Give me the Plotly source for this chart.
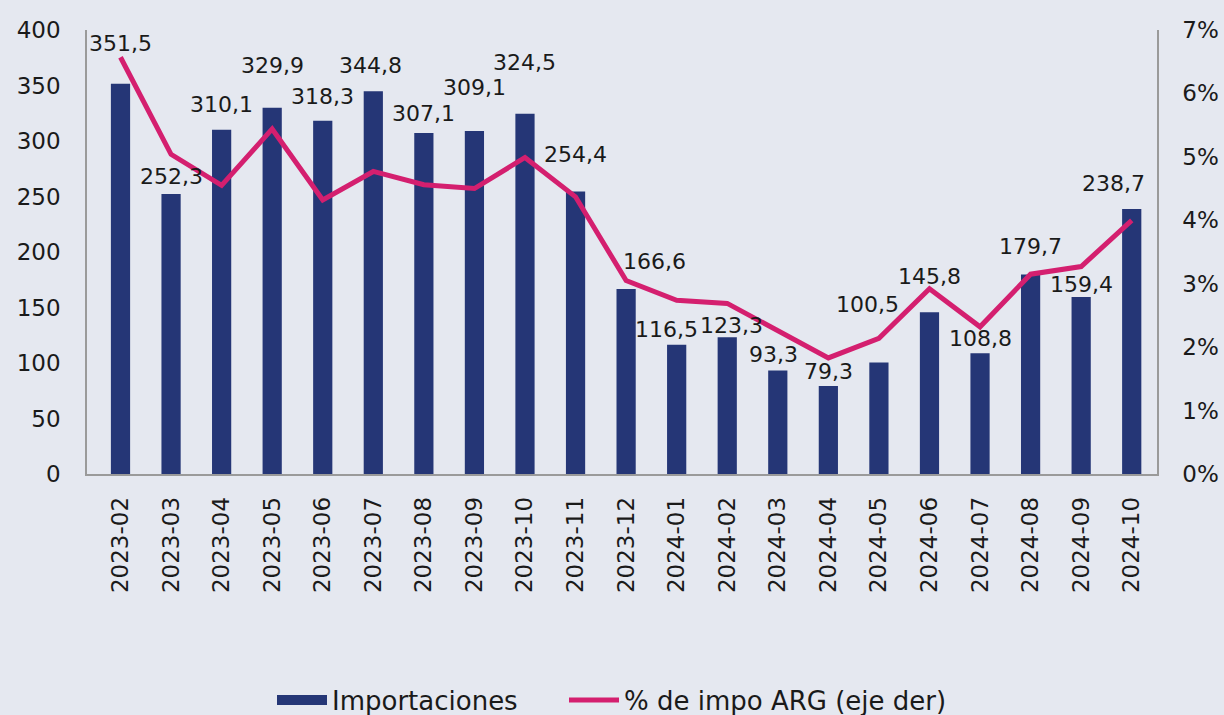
import plotly.graph_objects as go

categories = ["2023-02", "2023-03", "2023-04", "2023-05", "2023-06", "2023-07", "2023-08",
              "2023-09", "2023-10", "2023-11", "2023-12", "2024-01", "2024-02", "2024-03",
              "2024-04", "2024-05", "2024-06", "2024-07", "2024-08", "2024-09", "2024-10"]
importaciones = [351.5, 252.3, 310.1, 329.9, 318.3, 344.8, 307.1, 309.1, 324.5, 254.4,
                 166.6, 116.5, 123.3, 93.3, 79.3, 100.5, 145.8, 108.8, 179.7, 159.4, 238.7]
pct_impo_arg = [6.57, 5.04, 4.55, 5.44, 4.32, 4.77, 4.56, 4.50, 4.99, 4.37,
                3.05, 2.74, 2.69, 2.27, 1.83, 2.14, 2.92, 2.32, 3.15, 3.27, 4.00]
left_ticks = [0, 50, 100, 150, 200, 250, 300, 350, 400]
right_ticks = [0, 1, 2, 3, 4, 5, 6, 7]

# label placement offsets (pixels) for the value labels
label_dx = [0, 0, 0, 0, 0, -3, 0, 0, 0, 0, 28, -10, 4, -4, 0, -11, 0, 0, 0, 0, -18]
label_dy = [40, 17, 25, 42, 24, 26, 20, 43, 51, 37, 28, 15, 12, 16, 14, 58, 36, 15, 28, 13, 26]

FONT = "DejaVu Sans"
BAR = "#253676"
LINE = "#D41F6F"
BG = "#E5E8F0"
AX = "#9a9a9a"
TXT = "#1a1a1a"

def fmt(v):
    return f"{v:.1f}".replace(".", ",")

fig = go.Figure()
fig.add_trace(go.Bar(x=categories, y=importaciones, name="Importaciones",
                     marker=dict(color=BAR, line=dict(width=0)), yaxis="y",
                     showlegend=False))
# legend entry drawn as a wide block like the original
fig.add_trace(go.Scatter(x=[None], y=[None], name="Importaciones" + "\u00a0" * 5, mode="lines",
                         line=dict(color=BAR, width=15), hoverinfo="skip"))
fig.add_trace(go.Scatter(x=categories, y=pct_impo_arg, name="% de impo ARG (eje der)",
                         mode="lines", line=dict(color=LINE, width=5), yaxis="y2"))

for c, v, dx, dy in zip(categories, importaciones, label_dx, label_dy):
    fig.add_annotation(x=c, y=v, xref="x", yref="y", text=fmt(v), showarrow=False,
                       xshift=dx, yshift=dy, font=dict(family=FONT, size=22, color=TXT))

fig.update_layout(
    width=1224, height=715,
    paper_bgcolor=BG, plot_bgcolor=BG,
    margin=dict(l=87, r=67, t=30, b=241, autoexpand=False),
    bargap=0.62,
    font=dict(family=FONT, size=23, color=TXT),
    showlegend=True,
    legend=dict(orientation="h", x=0.5, xanchor="center", xref="container",
                y=0.021, yanchor="middle", yref="container",
                font=dict(family=FONT, size=26, color=TXT),
                tracegroupgap=0, bgcolor="rgba(0,0,0,0)", itemwidth=50),
    xaxis=dict(type="category", tickangle=-90, showline=True, linecolor=AX, linewidth=1.5,
               ticks="", showgrid=False, automargin=False, ticklabelstandoff=12,
               tickfont=dict(family=FONT, size=23)),
    yaxis=dict(range=[0, 400], tickvals=left_ticks, showline=True, linecolor=AX, linewidth=1.5,
               showgrid=False, zeroline=False, ticks="", automargin=False,
               ticklabelstandoff=20, tickfont=dict(family=FONT, size=23)),
    yaxis2=dict(range=[0, 7], tickvals=right_ticks, ticktext=[f"{t}%" for t in right_ticks],
                overlaying="y", side="right", showline=True, linecolor=AX, linewidth=1.5,
                showgrid=False, zeroline=False, ticks="", automargin=False,
                ticklabelstandoff=19, tickfont=dict(family=FONT, size=23)),
)

fig.write_html("out.html", config={"displayModeBar": False},
               post_script="document.body.style.margin='0';document.body.style.padding='0';"
                           "document.body.style.background='" + BG + "';"
                           "document.body.style.overflow='hidden';")
